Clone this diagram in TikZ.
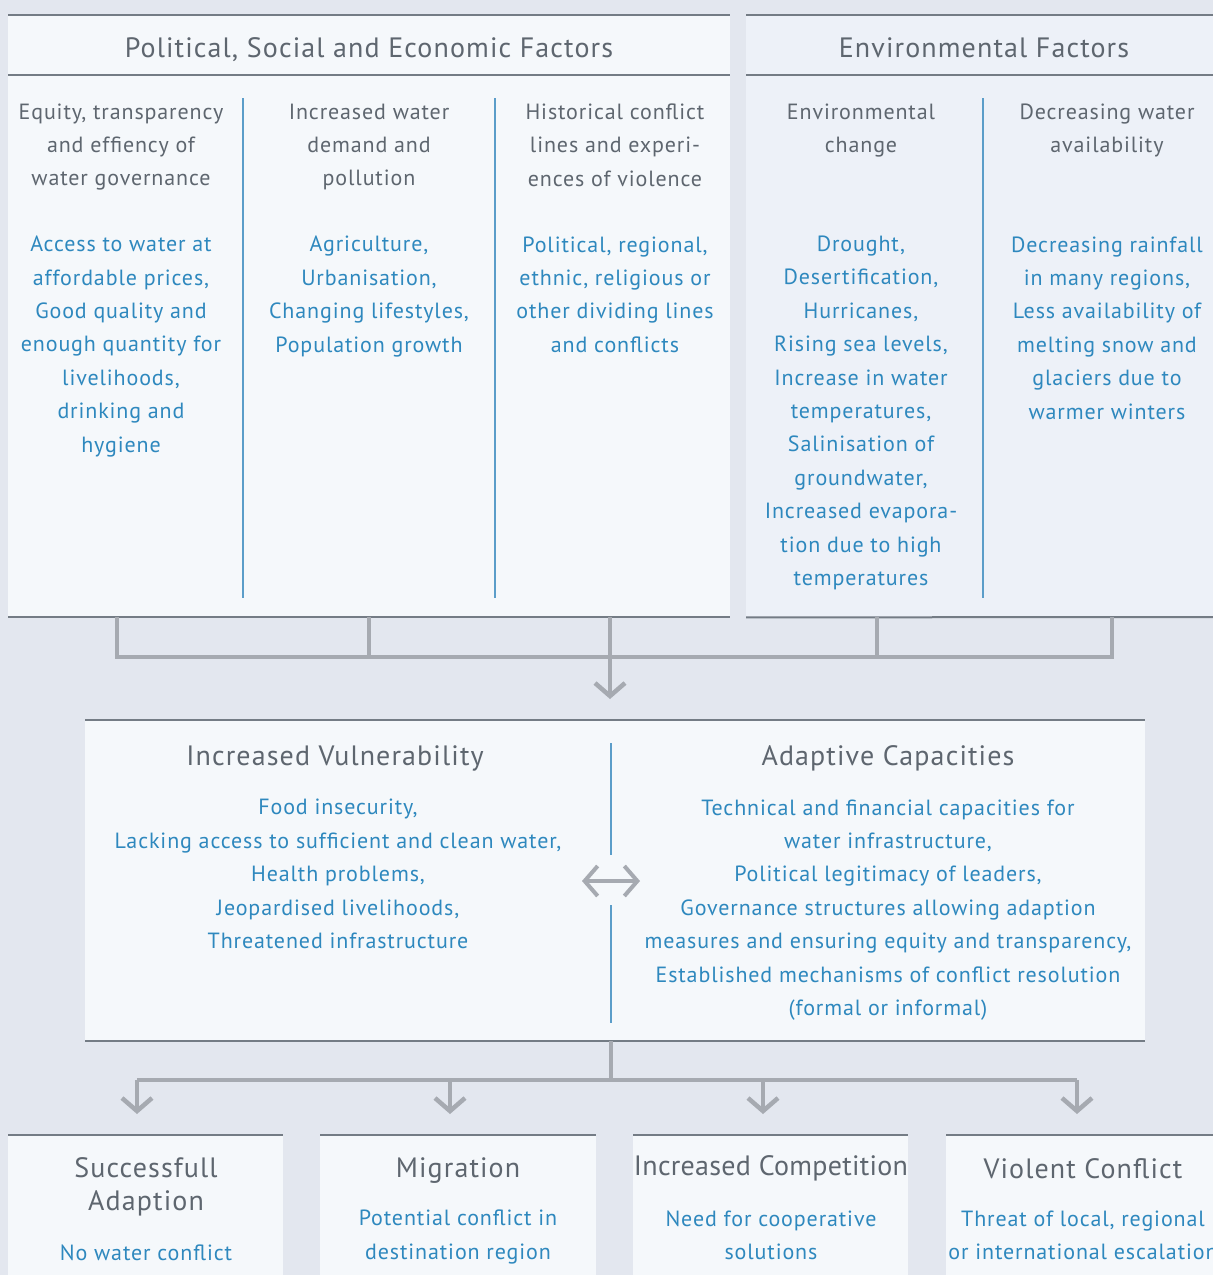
\documentclass[tikz,border=0pt]{standalone}
\usepackage{fontspec}
\setmainfont{PT Sans}[LetterSpace=4]
\usetikzlibrary{arrows.meta}
\definecolor{bgc}{HTML}{E3E7EF}
\definecolor{boxa}{HTML}{F5F8FB}
\definecolor{boxb}{HTML}{EDF1F8}
\definecolor{bordc}{HTML}{747C85}
\definecolor{connc}{HTML}{A6AAB1}
\definecolor{greyt}{HTML}{5E666F}
\definecolor{bluet}{HTML}{2E88BE}
\definecolor{divc}{HTML}{5B9DC9}
\tikzset{
  panel/.style={rectangle, fill=boxa, draw=none, inner sep=0pt, anchor=north west},
  envpanel/.style={panel, fill=boxb},
  border/.style={draw=bordc, line width=2pt},
  divider/.style={draw=divc, line width=1.2pt},
  conn/.style={draw=connc, line width=4.5pt, line join=miter},
  tipped/.style={-{Straight Barb[length=13pt,width=30pt]}},
  dtipped/.style={{Straight Barb[length=13pt,width=30pt]}-{Straight Barb[length=13pt,width=30pt]}},
  head/.style={text=greyt, align=center, inner sep=0pt, font=\fontsize{28}{33.4}\selectfont},
  sub/.style={text=greyt, align=center, inner sep=0pt, font=\fontsize{22}{33.4}\selectfont},
  body/.style={text=bluet, align=center, inner sep=0pt, font=\fontsize{22}{33.4}\selectfont},
}
\begin{document}
\begin{tikzpicture}[x=1pt,y=-1pt]
\fill[bgc] (0,0) rectangle (1213,1275);
\useasboundingbox (0,0) rectangle (1213,1275);

% top panels
\node[panel, minimum width=722pt, minimum height=602pt] (pse) at (8,15) {};
\node[envpanel, minimum width=480pt, minimum height=602pt] (env) at (746,15) {};
\draw[border] (pse.north west) -- (pse.north east);
\draw[border] (8,75) -- (730,75);
\draw[border] (pse.south west) -- (pse.south east);
\draw[border] (env.north west) -- (1213,15);
\draw[border] (746,75) -- (1213,75);
\draw[border] (env.south west) -- (1213,617);

\node[head] (hpse) at (369,49.5) {Political, Social and Economic Factors};
\node[head] (henv) at (984,48) {Environmental Factors};

\draw[divider] (243,98) -- (243,598);
\draw[divider] (495,98) -- (495,598);
\draw[divider] (983,98) -- (983,598);

\node[sub] (s1) at (121,147) {Equity, transparency\\and effiency of\\water governance};
\node[body] (b1) at (121,346.5) {Access to water at\\affordable prices,\\Good quality and\\enough quantity for\\livelihoods,\\drinking and\\hygiene};
\node[sub] (s2) at (369,147) {Increased water\\demand and\\pollution};
\node[body] (b2) at (369,296.5) {Agriculture,\\Urbanisation,\\Changing lifestyles,\\Population growth};
\node[sub] (s3) at (615,145) {Historical conflict\\lines and experi-\\ences of violence};
\node[body] (b3) at (615,294.5) {Political, regional,\\ethnic, religious or\\other dividing lines\\and conflicts};
\node[sub] (s4) at (861,130.5) {Environmental\\change};
\node[body] (b4) at (861,413) {Drought,\\Desertification,\\Hurricanes,\\Rising sea levels,\\Increase in water\\temperatures,\\Salinisation of\\groundwater,\\Increased evapora-\\tion due to high\\temperatures};
\node[sub] (s5) at (1107,130.5) {Decreasing water\\availability};
\node[body] (b5) at (1107,328) {Decreasing rainfall\\in many regions,\\Less availability of\\melting snow and\\glaciers due to\\warmer winters};

% middle panel
\node[panel, minimum width=1060pt, minimum height=321pt] (mid) at (85,720) {};
\draw[border] (mid.north west) -- (mid.north east);
\draw[border] (mid.south west) -- (mid.south east);
\node[head] (hvul) at (335,758) {Increased Vulnerability};
\node[head] (hcap) at (888,758) {Adaptive Capacities};
\node[body] (bvul) at (338,874) {Food insecurity,\\Lacking access to sufficient and clean water,\\Health problems,\\Jeopardised livelihoods,\\Threatened infrastructure};
\node[body] (bcap) at (888,910) {Technical and financial capacities for\\water infrastructure,\\Political legitimacy of leaders,\\Governance structures allowing adaption\\measures and ensuring equity and transparency,\\Established mechanisms of conflict resolution\\(formal or informal)};
\draw[divider] (611,743) -- (611,855);
\draw[divider] (611,905) -- (611,1023);
\coordinate (dl) at (582,881);
\coordinate (dr) at (640,881);
\draw[conn, line width=4pt, dtipped] (dl) -- (dr);

% bottom panels
\node[panel, minimum width=275pt, minimum height=150pt] (o1) at (8,1135) {};
\node[panel, minimum width=276pt, minimum height=150pt] (o2) at (320,1135) {};
\node[panel, minimum width=275pt, minimum height=150pt] (o3) at (633,1135) {};
\node[panel, minimum width=300pt, minimum height=150pt] (o4) at (946,1135) {};
\foreach \o in {o1,o2,o3,o4}{\draw[border] (\o.north west) -- (\o.north east);}
\node[head] (t1) at (146,1187) {Successfull\\Adaption};
\node[body] (u1) at (146,1253) {No water conflict};
\node[head] (t2) at (458,1170.5) {Migration};
\node[body] (u2) at (458,1237) {Potential conflict in\\destination region};
\node[head, font=\fontsize{28}{33.4}\selectfont\addfontfeature{LetterSpace=1}] (t3) at (771,1168.5) {Increased Competition};
\node[body] (u3) at (771,1235.5) {Need for cooperative\\solutions};
\node[head] (t4) at (1083,1168.5) {Violent Conflict};
\node[body] (u4) at (1083,1235.5) {Threat of local, regional\\or international escalation};

% connectors top -> middle
\coordinate (hl) at (117,657);
\coordinate (hr) at (1112,657);
\draw[conn] (pse.south -| hl) |- (hr) -- (env.south -| hr);
\coordinate (c2) at (369,657);
\coordinate (c3) at (610,657);
\coordinate (c4) at (877,657);
\draw[conn] (pse.south -| c2) -- (c2);
\draw[conn] (env.south -| c4) -- (c4);
\coordinate (a0) at (610,699);
\draw[conn, tipped] (pse.south -| c3) -- (a0);

% connectors middle -> outcomes
\coordinate (m0) at (611,1080);
\coordinate (bl) at (137,1080);
\coordinate (br) at (1077,1080);
\draw[conn] (mid.south -| m0) -- (m0);
\draw[conn] (bl) -- (br);
\foreach \x/\o in {137/o1,450/o2,763/o3,1077/o4}{
  \draw[conn, tipped] (\x,1080) -- ([yshift=21pt]\o.north -| \x,0);
}
\end{tikzpicture}
\end{document}
